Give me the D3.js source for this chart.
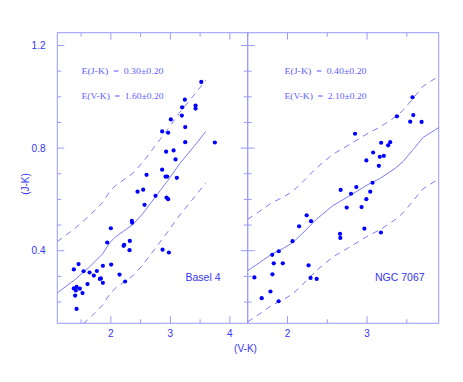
<!DOCTYPE html>
<html>
<head>
<meta charset="utf-8">
<script src="https://cdn.jsdelivr.net/npm/d3@7/dist/d3.min.js"></script>
<style>
  html, body { margin: 0; padding: 0; background: #ffffff; }
  svg { display: block; }
</style>
</head>
<body>
<svg id="chart" width="463" height="382"></svg>
<script>
// ---------------- DATA ----------------
// Basel 4 stars: (V-K), (J-K)
const basel4VK = [3.52,3.244,3.198,3.424,3.424,3.193,3.008,3.25,2.862,2.963,3.25,3.748,3.054,2.929,3.087,2.862,2.919,2.946,3.109,2.6,2.449,2.543,2.751,2.566,2.936,2.963,2.353,2.358,2.0,1.938,2.319,2.224,2.214,2.314,2.869,2.975,1.457,1.378,1.541,1.642,1.765,1.714,1.866,2.005,2.146,1.815,1.832,1.866,1.608,1.524,1.378,1.424,1.412,1.479,1.4,2.24,1.424];
const basel4JK = [1.058,0.989,0.959,0.966,0.954,0.927,0.912,0.882,0.865,0.86,0.823,0.822,0.791,0.786,0.756,0.716,0.689,0.689,0.684,0.696,0.63,0.638,0.614,0.579,0.607,0.601,0.516,0.509,0.4875,0.432,0.438,0.423,0.419,0.402,0.404,0.393,0.348,0.327,0.32,0.315,0.321,0.303,0.341,0.346,0.307,0.29,0.292,0.275,0.27,0.235,0.253,0.259,0.245,0.252,0.225,0.28,0.173];
// Basel 4 model sequence (reddened isochrone)
const basel4ModelVK = [1.097,1.395,1.647,1.866,1.983,2.084,2.37,2.538,2.739,2.958,3.16,3.412,3.597];
const basel4ModelJK = [0.235,0.287,0.338,0.389,0.432,0.455,0.502,0.545,0.607,0.674,0.74,0.811,0.865];

// NGC 7067 stars
const ngc7067VK = [3.571,3.375,3.58,3.542,3.685,2.849,3.177,3.29,3.265,3.076,3.16,3.211,2.991,3.148,3.069,2.865,2.668,2.798,3.04,2.991,2.744,2.931,2.241,2.146,2.296,2.66,2.664,2.966,3.174,2.063,1.89,1.808,1.827,1.941,2.265,2.29,2.367,1.584,1.811,1.786,1.676,1.888];
const ngc7067JK = [0.998,0.924,0.929,0.903,0.902,0.856,0.821,0.823,0.811,0.783,0.766,0.77,0.752,0.731,0.665,0.648,0.637,0.622,0.63,0.601,0.568,0.57,0.538,0.495,0.515,0.466,0.45,0.486,0.471,0.437,0.398,0.384,0.351,0.351,0.343,0.294,0.29,0.296,0.308,0.241,0.215,0.203];
const ngc7067ModelVK = [1.499,1.651,1.802,1.941,2.067,2.193,2.357,2.571,2.785,3.012,3.164,3.353,3.454,3.58,3.706,3.904];
const ngc7067ModelJK = [0.322,0.354,0.387,0.408,0.432,0.469,0.521,0.576,0.615,0.658,0.682,0.721,0.748,0.795,0.842,0.881];

// Labels
const panelNames = ["Basel 4", "NGC 7067"];
const ejkLabels = ["E(J-K)  =  0.30\u00b10.20", "E(J-K)  =  0.40\u00b10.20"];
const evkLabels = ["E(V-K)  =  1.60\u00b10.20", "E(V-K)  =  2.10\u00b10.20"];
const ejkSigma = 0.20;   // the ±0.20 of E(J-K): dashed envelope
const yTickLabels = [0.4, 0.8, 1.2];
const xMajorLeft = [2, 3, 4];
const xMajorRight = [2, 3];
const xLabel = "(V-K)";
const yLabel = "(J-K)";

// ---------------- LAYOUT ----------------
const svg = d3.select("#chart");
const plotTop = 32.7, plotBottom = 323.3;
const axisColor = "#9a9aff", lineColor = "#7b7bff", dotColor = "#0000ff", textColor = "#3535f5", annColor = "#6060ff";

const y = d3.scaleLinear().domain([0.117, 1.25]).range([plotBottom, plotTop]);

const panels = [
  { x: d3.scaleLinear().domain([1.1, 4.3]).range([57.3, 247.7]),
    vk: basel4VK, jk: basel4JK, mvk: basel4ModelVK, mjk: basel4ModelJK,
    majors: xMajorLeft, rightTicks: true, name: panelNames[0], ejk: ejkLabels[0], evk: evkLabels[0],
    nameX: 185.5, annX: 81.5 },
  { x: d3.scaleLinear().domain([1.5, 3.9]).range([247.7, 438.7]),
    vk: ngc7067VK, jk: ngc7067JK, mvk: ngc7067ModelVK, mjk: ngc7067ModelJK,
    majors: xMajorRight, rightTicks: false, name: panelNames[1], ejk: ejkLabels[1], evk: evkLabels[1],
    nameX: 375, annX: 284.5 }
];

const yMinor = d3.range(2, 13).map(d => d / 10).filter(d => !yTickLabels.some(t => Math.abs(t - d) < 1e-6));
const majorLen = 7, minorLen = 4;

panels.forEach((p, i) => {
  const x = p.x;
  const [x0, x1] = x.range();
  const g = svg.append("g");
  const clipId = "clip" + i;
  svg.append("clipPath").attr("id", clipId)
    .append("rect").attr("x", x0).attr("y", plotTop).attr("width", x1 - x0).attr("height", plotBottom - plotTop);

  // frame
  g.append("rect").attr("x", x0).attr("y", plotTop).attr("width", x1 - x0).attr("height", plotBottom - plotTop)
    .attr("fill", "none").attr("stroke", axisColor).attr("stroke-width", 1);

  // x ticks (0.5 step)
  const xd = x.domain();
  const xTicks = d3.range(Math.ceil(xd[0] * 2) / 2, xd[1] + 1e-9, 0.5);
  xTicks.forEach(t => {
    const len = Math.abs(t - Math.round(t)) < 1e-6 ? majorLen : minorLen;
    g.append("line").attr("x1", x(t)).attr("x2", x(t)).attr("y1", plotBottom).attr("y2", plotBottom - len)
      .attr("stroke", axisColor);
    g.append("line").attr("x1", x(t)).attr("x2", x(t)).attr("y1", plotTop).attr("y2", plotTop + len)
      .attr("stroke", axisColor);
  });
  // x tick labels
  g.selectAll(".xl").data(p.majors).join("text")
    .attr("x", d => x(d)).attr("y", plotBottom + 14)
    .attr("text-anchor", "middle")
    .attr("font-family", "Liberation Sans, Arial, sans-serif").attr("font-size", 10)
    .attr("fill", textColor).text(d => d);

  // y ticks
  const yAll = yTickLabels.map(v => ({ v, len: majorLen })).concat(yMinor.map(v => ({ v, len: minorLen })));
  yAll.forEach(t => {
    g.append("line").attr("x1", x0).attr("x2", x0 + t.len).attr("y1", y(t.v)).attr("y2", y(t.v))
      .attr("stroke", axisColor);
    if (p.rightTicks) {
      g.append("line").attr("x1", x1).attr("x2", x1 - t.len).attr("y1", y(t.v)).attr("y2", y(t.v))
        .attr("stroke", axisColor);
    }
  });

  // model lines
  const model = p.mvk.map((v, k) => [v, p.mjk[k]]);
  const line = d3.line().x(d => x(d[0])).y(d => y(d[1]));
  const lg = g.append("g").attr("clip-path", `url(#${clipId})`);
  lg.append("path").attr("d", line(model)).attr("fill", "none").attr("stroke", lineColor).attr("stroke-width", 1);
  [ejkSigma, -ejkSigma].forEach(s => {
    lg.append("path").attr("d", line(model.map(d => [d[0], d[1] + s])))
      .attr("fill", "none").attr("stroke", lineColor).attr("stroke-width", 1)
      .attr("stroke-dasharray", "6,5");
  });

  // points
  g.append("g").attr("clip-path", `url(#${clipId})`)
    .selectAll("circle").data(p.vk.map((v, k) => [v, p.jk[k]])).join("circle")
    .attr("cx", d => x(d[0])).attr("cy", d => y(d[1])).attr("r", 2.1).attr("fill", dotColor);

  // annotations
  [p.ejk, p.evk].forEach((t, k) => {
    g.append("text").attr("x", p.annX).attr("y", 74 + k * 25.3)
      .attr("font-family", "Liberation Serif, DejaVu Serif, serif").attr("font-size", 8.6)
      .attr("fill", annColor).style("white-space", "pre").attr("textLength", 82)
      .attr("lengthAdjust", "spacingAndGlyphs").text(t);
  });
  g.append("text").attr("x", p.nameX).attr("y", 280.5)
    .attr("font-family", "Liberation Sans, Arial, sans-serif").attr("font-size", 10.5)
    .attr("fill", textColor).text(p.name);
});

// y tick labels
svg.selectAll(".yl").data(yTickLabels).join("text")
  .attr("x", 45.5).attr("y", d => y(d) + 3.6)
  .attr("text-anchor", "end")
  .attr("font-family", "Liberation Sans, Arial, sans-serif").attr("font-size", 10)
  .attr("fill", textColor).text(d => d.toFixed(1));

// axis titles
svg.append("text").attr("x", 245.5).attr("y", 351.5).attr("text-anchor", "middle")
  .attr("font-family", "Liberation Sans, Arial, sans-serif").attr("font-size", 10)
  .attr("fill", textColor).text(xLabel);
svg.append("text").attr("transform", "translate(28.5,184) rotate(-90)").attr("text-anchor", "middle")
  .attr("font-family", "Liberation Sans, Arial, sans-serif").attr("font-size", 10)
  .attr("fill", textColor).text(yLabel);
</script>
</body>
</html>
